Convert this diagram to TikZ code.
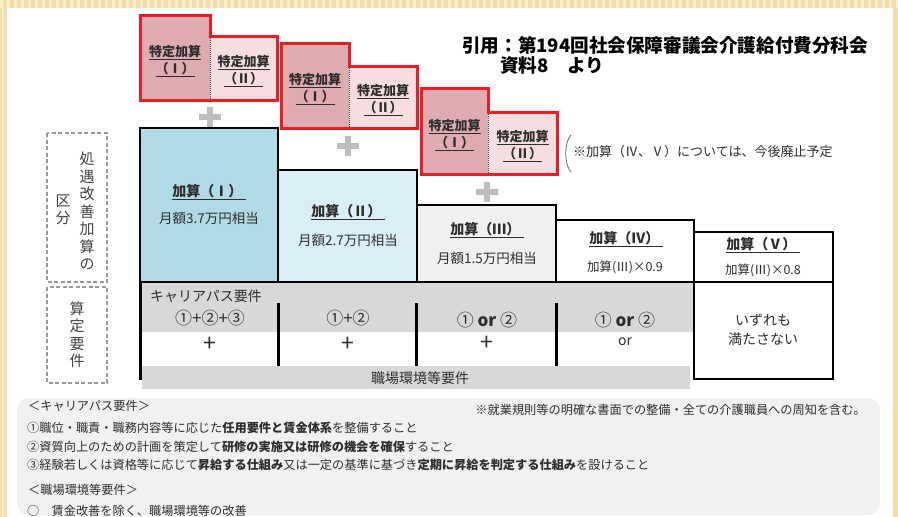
\documentclass[tikz,border=0pt]{standalone}
\usepackage{fontspec}
\setmainfont{Noto Sans CJK JP}
\definecolor{bgtan}{RGB}{242,222,170}
\definecolor{bgtan2}{RGB}{250,238,200}
\definecolor{redl}{RGB}{232,30,36}
\definecolor{pinkd}{RGB}{222,172,176}
\definecolor{pinkl}{RGB}{246,222,224}
\definecolor{blue1}{RGB}{176,218,230}
\definecolor{blue2}{RGB}{218,238,245}
\definecolor{gray3}{RGB}{240,240,240}
\definecolor{band}{RGB}{216,216,216}
\definecolor{plusg}{RGB}{190,190,190}
\definecolor{txt}{RGB}{45,45,45}
\definecolor{panel}{RGB}{241,241,241}
\begin{document}
\begin{tikzpicture}[x=1pt,y=-1pt,
  redbox/.style={draw=redl,line width=3pt,line join=miter},
  boxline/.style={draw=black,line width=2.4pt},
  sep/.style={draw=black,line width=3pt},
  dashbox/.style={draw=gray!80,line width=1.6pt,dash pattern=on 4pt off 2.5pt},
  tk/.style={font=\fontsize{13}{17}\selectfont\bfseries,align=center,text=txt,inner sep=0pt},
  hd/.style={font=\fontsize{14}{16}\selectfont\bfseries,text=txt,inner sep=0pt},
  sub/.style={font=\fontsize{13.5}{16}\selectfont,text=txt,inner sep=0pt},
  sub2/.style={font=\fontsize{12.5}{16}\selectfont,text=txt,inner sep=0pt},
  req/.style={font=\fontsize{17}{19}\selectfont,text=txt,inner sep=0pt},
  plus/.style={font=\fontsize{23}{24}\selectfont,text=txt,inner sep=0pt},
  vert/.style={font=\fontsize{15}{17.5}\selectfont,align=center,text=txt!90,inner sep=0pt},
  pl/.style={font=\fontsize{12.2}{14}\selectfont,text=txt,inner sep=0pt,anchor=west},
]
\useasboundingbox (0,0) rectangle (898,517);
% background frame
\fill[bgtan] (0,0) rectangle (898,517);
\foreach \i in {0,7,...,896} \fill[bgtan2] (\i,0) rectangle (\i+3,8);
\fill[bgtan2] (2,8) rectangle (4,517);
\fill[white] (7,8) rectangle (893,517);

% title
\node[anchor=west,inner sep=0pt,font=\fontsize{18.6}{21}\selectfont\bfseries] (title1) at (462,45) {引用：第194回社会保障審議会介護給付費分科会};
\node[anchor=west,inner sep=0pt,font=\fontsize{18.6}{21}\selectfont\bfseries] (title2) at (500,65) {資料8　より};

% red groups
\foreach \a/\b/\c/\d/\e/\f/\n in {140/15/210/36/277/100/1, 281/43/349/66/417/128/2, 421/88/488/112/557/174/3} {
  \fill[pinkd] (\a,\b) rectangle (\c,\f);
  \fill[pinkl] (\c,\d) rectangle (\e,\f);
  \draw[densely dotted,line width=1pt,gray!60!black] (\c,\d) -- (\c,\f);
  \draw[redbox] (\a,\b) -- (\c,\b) -- (\c,\d) -- (\e,\d) -- (\e,\f) -- (\a,\f) -- cycle;
  \node[tk] (tkA\n) at ({(\a+\c)/2},{(\b+\f)/2+4}) {\underline{特定加算}\\\underline{（Ⅰ）}};
  \node[tk] (tkB\n) at ({(\c+\e)/2},{(\d+\f)/2+3}) {\underline{特定加算}\\\underline{（Ⅱ）}};
}

% plus signs
\foreach \x/\y in {210/117, 348/146, 487/192} {
  \fill[plusg] (\x-11,\y-3) rectangle (\x+11,\y+3);
  \fill[plusg] (\x-3,\y-10) rectangle (\x+3,\y+10);
}

% note
\draw[line width=0.7pt,gray!70!black] (571,135) .. controls (564,142) and (564,165) .. (571,172);
\node[anchor=west,inner sep=0pt,font=\fontsize{13}{15}\selectfont,text=txt] (note) at (573,152) {※加算（Ⅳ、Ⅴ）については、今後廃止予定};

% requirement bands
\fill[band] (141,283) rectangle (694,332);
\fill[band] (142,366) rectangle (690,389);
\draw[boxline] (694,282) rectangle (833,379);
\draw[sep] (140,282) -- (140,380);
\foreach \x in {278,416,556} \draw[sep] (\x,303) -- (\x,366);

% main boxes
\draw[boxline,fill=blue1] (140,128) rectangle (278,282);
\draw[boxline,fill=blue2] (278,170) rectangle (417,282);
\draw[boxline,fill=gray3] (417,205) rectangle (556,282);
\draw[boxline,fill=white] (556,220) rectangle (694,282);
\draw[boxline,fill=white] (694,232) rectangle (833,282);

\node[hd] (h1) at (209,192) {\underline{加算（Ⅰ）\ }};
\node[sub] (s1) at (209,218) {月額3.7万円相当};
\node[hd] (h2) at (348,212) {\underline{加算（Ⅱ）\ }};
\node[sub] (s2) at (348,240) {月額2.7万円相当};
\node[hd] (h3) at (487,230) {\underline{加算（Ⅲ）\ }};
\node[sub] (s3) at (487,258) {月額1.5万円相当};
\node[hd] (h4) at (626,239) {\underline{加算（Ⅳ）\ }};
\node[sub2] (s4) at (625,267) {加算(Ⅲ)×0.9};
\node[hd] (h5) at (763,245) {\underline{加算（Ⅴ）\ }};
\node[sub2] (s5) at (763,270) {加算(Ⅲ)×0.8};

% requirement texts
\node[anchor=west,sub,font=\fontsize{14}{16}\selectfont] (cp) at (150,296) {キャリアパス要件};
\node[req] (r1) at (210,318) {①+②+③};
\node[plus] (p1) at (210,344) {+};
\node[req] (r2) at (348,318) {①+②};
\node[plus] (p2) at (348,344) {+};
\node[req] (r3) at (487,320) {① \textbf{or} ②};
\node[plus] (p3) at (487,343) {+};
\node[req] (r4) at (625,320) {① \textbf{or} ②};
\node[req,font=\fontsize{14}{16}\selectfont] (p4) at (625,342) {or};
\node[sub,font=\fontsize{14}{19}\selectfont,align=center] (r5) at (763,330) {いずれも\\満たさない};
\node[sub,font=\fontsize{14}{16}\selectfont] (env) at (420,378) {職場環境等要件};

% left dashed labels
\draw[dashbox] (47,133) rectangle (107,282);
\draw[dashbox] (47,287) rectangle (107,383);
\node[vert] (v1) at (87,211) {処\\遇\\改\\善\\加\\算\\の};
\node[vert] (v2) at (63,210) {区\\分};
\node[vert] (v3) at (77,335) {算\\定\\要\\件};

% bottom panel
\fill[panel] (17,398) [rounded corners=12pt] -- (880,398) -- (880,515) -- (17,515) -- cycle;
\node[pl] (b0) at (28,406) {＜キャリアパス要件＞};
\node[pl,anchor=east] (b0n) at (866,410) {※就業規則等の明確な書面での整備・全ての介護職員への周知を含む。};
\node[pl] (b1) at (27,428) {①職位・職責・職務内容等に応じた\textbf{任用要件と賃金体系}を整備すること};
\node[pl] (b2) at (27,447) {②資質向上のための計画を策定して\textbf{研修の実施又は研修の機会を確保}すること};
\node[pl] (b3) at (27,465) {③経験若しくは資格等に応じて\textbf{昇給する仕組み}又は一定の基準に基づき\textbf{定期に昇給を判定する仕組み}を設けること};
\node[pl] (b4) at (28,490) {＜職場環境等要件＞};
\node[pl] (b5) at (27,511) {○　賃金改善を除く、職場環境等の改善};
\end{tikzpicture}
\end{document}
